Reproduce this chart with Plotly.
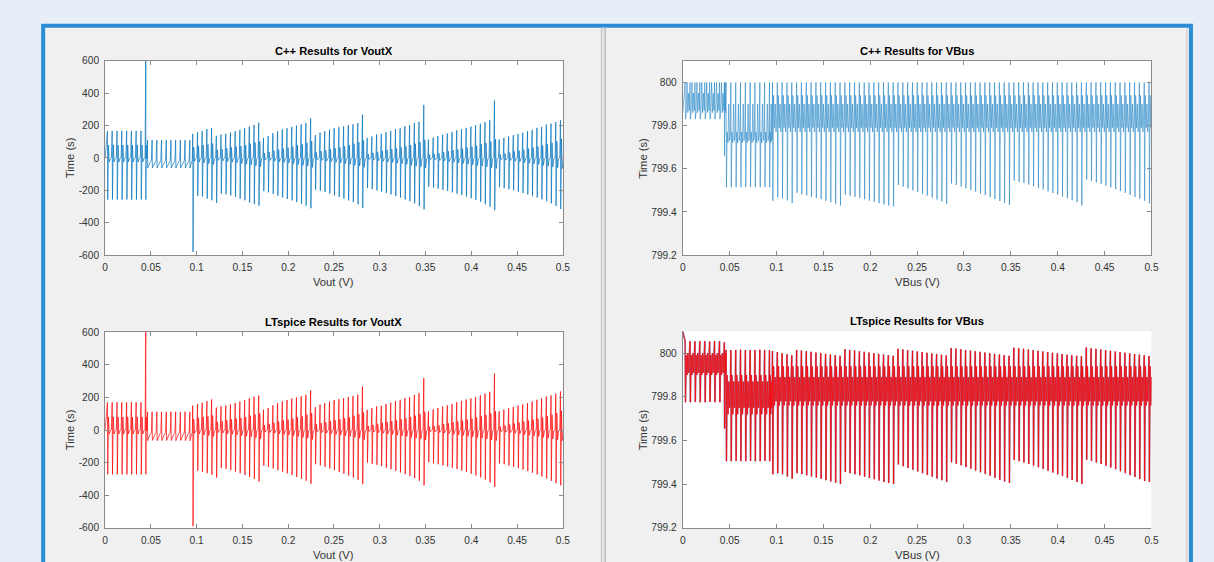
import plotly.graph_objects as go

W, H = 1214, 562

# ------------------------------------------------------------------
# DATA
# ------------------------------------------------------------------
# switching instants (s) - three regimes
spike_t_s1 = [0.0025, 0.0077, 0.0130, 0.0182, 0.0235, 0.0287, 0.0339, 0.0392, 0.0444]
spike_t_s2 = [0.0462, 0.0513, 0.0565, 0.0616, 0.0668, 0.0719, 0.0770, 0.0822, 0.0873, 0.0925]
spike_t_s3 = [0.0957, 0.1009, 0.1060, 0.1112, 0.1163,
              0.1215, 0.1266, 0.1318, 0.1369, 0.1421, 0.1472, 0.1524, 0.1575, 0.1627, 0.1678,
              0.1730, 0.1781, 0.1833, 0.1884, 0.1936, 0.1987, 0.2039, 0.2090, 0.2142, 0.2193, 0.2245,
              0.2296, 0.2348, 0.2399, 0.2451, 0.2502, 0.2554, 0.2605, 0.2657, 0.2708, 0.2760, 0.2811,
              0.2863, 0.2914, 0.2966, 0.3017, 0.3069, 0.3120, 0.3172, 0.3223, 0.3275, 0.3326, 0.3378, 0.3429, 0.3481,
              0.3532, 0.3584, 0.3635, 0.3687, 0.3738, 0.3790, 0.3841, 0.3893, 0.3944, 0.3996, 0.4047, 0.4099, 0.4150, 0.4202, 0.4253,
              0.4305, 0.4356, 0.4408, 0.4459, 0.4511, 0.4562, 0.4614, 0.4665, 0.4717, 0.4768, 0.4820, 0.4871, 0.4923, 0.4974]

# ---- VoutX, C++ ----
vx_cpp_pos_s1 = [167, 168, 167, 167, 168, 167, 167, 168, 620]
vx_cpp_neg_s1 = [-257, -256, -257, -257, -256, -257, -257, -256, -257]
vx_cpp_pos_s2 = [110, 111, 110, 110, 111, 110, 110, 111, 110, 110]
vx_cpp_neg_s2 = [-62, -61, -62, -62, -61, -62, -62, -61, -62, -62]
vx_cpp_pos_s3 = [149, 159, 165, 178, 186,
                 137, 145, 149, 157, 165, 173, 184, 194, 204, 218,
                 124, 135, 153, 165, 177, 184, 192, 200, 208, 216, 245,
                 141, 157, 165, 175, 184, 190, 196, 202, 208, 216, 267,
                 124, 133, 145, 149, 159, 167, 178, 184, 196, 202, 216, 224, 328,
                 114, 126, 135, 143, 151, 159, 171, 178, 186, 194, 202, 212, 222, 233, 355,
                 114, 124, 133, 141, 149, 157, 165, 173, 186, 192, 206, 212, 222, 233]
vx_cpp_neg_s3 = [-580, -233, -237, -251, -261,
                 -277, -220, -224, -231, -239, -251, -261, -275, -284, -294,
                 -205, -212, -222, -233, -243, -253, -262, -272, -283, -294, -310,
                 -196, -202, -210, -220, -231, -241, -251, -262, -272, -285, -308,
                 -185, -192, -200, -208, -216, -225, -235, -245, -256, -267, -280, -296, -318,
                 -178, -184, -190, -197, -204, -212, -220, -229, -238, -248, -258, -270, -285, -300, -322,
                 -180, -186, -193, -200, -208, -216, -225, -234, -244, -255, -267, -280, -296, -315]

# secondary (ringing) levels, shared by both simulators
vx_mid_s1 = [80, 81, 80, 80, 81, 80, 80, 81, 80]
vx_dip_s1 = [-25, -24, -25, -25, -24, -25, -25, -24, -25]
vx_mid_s2 = [-50, -50, -49, -50, -50, -49, -50, -50, -49, -50]
vx_dip_s2 = [-38, -37, -38, -38, -37, -38, -38, -37, -38, -38]
vx_mid_s3 = [67, 75, 80, 84, 90,
             50, 55, 60, 65, 70, 75, 80, 88, 95, 102,
             30, 38, 45, 52, 58, 64, 70, 78, 85, 95, 105,
             35, 42, 48, 55, 60, 66, 72, 80, 88, 98, 110,
             25, 32, 38, 45, 50, 55, 60, 66, 72, 80, 88, 98, 112,
             20, 25, 30, 36, 42, 48, 53, 58, 64, 70, 76, 84, 92, 102, 115,
             22, 28, 34, 40, 46, 52, 58, 64, 70, 77, 85, 94, 104, 118]
vx_dip_s3 = [-20, -25, -30, -35, -40,
             -15, -18, -22, -26, -30, -34, -38, -42, -48, -55,
             -12, -15, -19, -23, -27, -31, -35, -40, -45, -50, -58,
             -12, -15, -19, -23, -27, -31, -35, -40, -45, -50, -58,
             -10, -13, -16, -20, -24, -28, -32, -36, -40, -45, -50, -55, -62,
             -10, -12, -15, -18, -22, -26, -30, -34, -38, -42, -46, -50, -55, -60, -65,
             -10, -13, -16, -20, -24, -28, -32, -36, -40, -45, -50, -55, -60, -66]
vx_rest_s1 = [-4, 2]
vx_rest_s2 = [-26, -16]
vx_rest_s3 = [-4, 2]
vx_start = 0

# ---- VoutX, LTspice ----
vx_lt_pos_s1 = [170, 170, 171, 170, 170, 171, 170, 170, 620]
vx_lt_neg_s1 = [-272, -273, -272, -272, -273, -272, -272, -273, -272]
vx_lt_pos_s2 = [112, 112, 113, 112, 112, 113, 112, 112, 113, 112]
vx_lt_neg_s2 = [-65, -64, -65, -65, -64, -65, -65, -64, -65, -65]
vx_lt_pos_s3 = [150, 160, 167, 178, 188,
                138, 146, 150, 158, 166, 175, 185, 195, 206, 212,
                125, 136, 152, 165, 176, 185, 193, 200, 208, 216, 243,
                140, 156, 165, 175, 184, 190, 196, 203, 209, 217, 267,
                124, 134, 145, 150, 160, 168, 178, 186, 196, 203, 216, 226, 320,
                115, 127, 136, 144, 152, 160, 171, 179, 187, 195, 203, 213, 223, 235, 347,
                115, 125, 134, 142, 150, 158, 166, 175, 186, 194, 206, 213, 224, 237]
vx_lt_neg_s3 = [-590, -250, -256, -265, -275,
                -292, -232, -238, -246, -255, -265, -276, -288, -300, -316,
                -218, -226, -236, -246, -256, -266, -276, -288, -300, -312, -330,
                -210, -217, -226, -236, -246, -257, -268, -280, -292, -306, -333,
                -200, -207, -214, -222, -231, -240, -250, -260, -271, -283, -296, -312, -340,
                -198, -204, -210, -217, -224, -232, -240, -249, -258, -268, -279, -291, -305, -322, -350,
                -205, -211, -218, -226, -234, -243, -252, -262, -273, -285, -298, -312, -326, -340]

# ---- VBus, C++ ----
vb_cpp_ceiling = 800.0
vb_cpp_start = 799.86
vb_cpp_deep_s1 = [799.83, 799.83, 799.83, 799.83, 799.83, 799.83, 799.83, 799.83, 799.66]
vb_cpp_deep_s2 = [799.515, 799.515, 799.516, 799.515, 799.515, 799.516, 799.515, 799.515, 799.516, 799.515]
vb_cpp_deep_s3 = [799.452, 799.467, 799.463, 799.454, 799.441,
                  799.489, 799.482, 799.476, 799.470, 799.465, 799.459, 799.452, 799.445, 799.438, 799.430,
                  799.480, 799.475, 799.470, 799.465, 799.459, 799.453, 799.447, 799.441, 799.435, 799.430, 799.426,
                  799.525, 799.517, 799.509, 799.500, 799.492, 799.484, 799.476, 799.467, 799.458, 799.449, 799.438,
                  799.532, 799.525, 799.518, 799.510, 799.502, 799.494, 799.486, 799.478, 799.469, 799.460, 799.451, 799.443, 799.433,
                  799.545, 799.540, 799.534, 799.527, 799.520, 799.512, 799.504, 799.496, 799.488, 799.480, 799.472, 799.463, 799.454, 799.445, 799.430,
                  799.550, 799.544, 799.537, 799.530, 799.522, 799.514, 799.506, 799.497, 799.488, 799.479, 799.470, 799.461, 799.452, 799.440]
vb_cpp_band_s1 = [799.86, 800.0, 799.86, 799.95, 799.87]
vb_cpp_band_s2 = [799.77, 799.72, 799.90, 799.73, 799.76]
vb_cpp_band_s3 = [799.94, 799.79, 799.90, 799.77, 799.84]

# ---- VBus, LTspice ----
vb_lt_start = 800.10
vb_lt_top_s1 = [800.055, 800.055, 800.054, 800.055, 800.055, 800.054, 800.055, 800.055, 800.050]
vb_lt_deep_s1 = [799.775, 799.775, 799.776, 799.775, 799.775, 799.776, 799.775, 799.775, 799.655]
vb_lt_top_s2 = [800.015, 800.014, 800.015, 800.016, 800.015, 800.014, 800.015, 800.016, 800.015, 800.014]
vb_lt_deep_s2 = [799.505, 799.505, 799.506, 799.505, 799.505, 799.506, 799.505, 799.505, 799.506, 799.505]
vb_lt_top_s3 = [800.010, 800.005, 800.000, 799.995, 799.990,
                800.015, 800.012, 800.009, 800.006, 800.003, 800.000, 799.997, 799.994, 799.991, 799.988,
                800.018, 800.015, 800.012, 800.009, 800.006, 800.003, 800.000, 799.997, 799.994, 799.991, 799.988,
                800.020, 800.017, 800.014, 800.011, 800.008, 800.005, 800.002, 799.999, 799.996, 799.993, 799.990,
                800.024, 800.021, 800.018, 800.015, 800.012, 800.009, 800.006, 800.003, 800.000, 799.997, 799.994, 799.991, 799.988,
                800.025, 800.022, 800.020, 800.017, 800.014, 800.011, 800.008, 800.005, 800.002, 799.999, 799.996, 799.993, 799.990, 799.988, 799.986,
                800.026, 800.023, 800.020, 800.017, 800.014, 800.011, 800.008, 800.005, 800.002, 799.999, 799.996, 799.993, 799.990, 799.987]
vb_lt_deep_s3 = [799.445, 799.450, 799.445, 799.435, 799.425,
                 799.450, 799.446, 799.440, 799.435, 799.430, 799.424, 799.418, 799.412, 799.406, 799.400,
                 799.455, 799.450, 799.445, 799.440, 799.434, 799.428, 799.422, 799.416, 799.410, 799.405, 799.400,
                 799.490, 799.482, 799.474, 799.466, 799.458, 799.450, 799.442, 799.434, 799.426, 799.418, 799.410,
                 799.500, 799.493, 799.486, 799.478, 799.470, 799.462, 799.454, 799.446, 799.438, 799.429, 799.420, 799.412, 799.405,
                 799.510, 799.505, 799.499, 799.492, 799.485, 799.477, 799.469, 799.461, 799.453, 799.445, 799.437, 799.428, 799.419, 799.410, 799.400,
                 799.512, 799.506, 799.499, 799.492, 799.484, 799.476, 799.468, 799.459, 799.450, 799.441, 799.432, 799.423, 799.414, 799.410]
vb_lt_band_s1 = [799.99, 799.90, 800.0, 799.91, 799.97]
vb_lt_band_s2 = [799.90, 799.72, 799.87, 799.75, 799.82]
vb_lt_band_s3 = [799.94, 799.76, 799.89, 799.78, 799.86]

# ---- ticks / labels ----
x_tick_vals = [0, 0.05, 0.1, 0.15, 0.2, 0.25, 0.3, 0.35, 0.4, 0.45, 0.5]
x_tick_text = ["0", "0.05", "0.1", "0.15", "0.2", "0.25", "0.3", "0.35", "0.4", "0.45", "0.5"]
vx_tick_vals = [-600, -400, -200, 0, 200, 400, 600]
vx_tick_text = ["-600", "-400", "-200", "0", "200", "400", "600"]
vb_tick_vals = [799.2, 799.4, 799.6, 799.8, 800]
vb_tick_text = ["799.2", "799.4", "799.6", "799.8", "800"]
titles = ["C++ Results for VoutX", "C++ Results for VBus",
          "LTspice Results for VoutX", "LTspice Results for VBus"]
xlabels = ["Vout (V)", "VBus (V)", "Vout (V)", "VBus (V)"]
ylabel = "Time (s)"

# ------------------------------------------------------------------
# build polylines from the per-switching-cycle values
# ------------------------------------------------------------------
all_t = spike_t_s1 + spike_t_s2 + spike_t_s3


def build(rows, phases, start):
    xs, ys = [0.0], [start]
    n = len(all_t)
    for k in range(n):
        t = all_t[k]
        T = (all_t[k + 1] - t) if k + 1 < n else (t - all_t[k - 1])
        for f, v in zip(phases, rows[k]):
            xs.append(t + f * T)
            ys.append(v)
    return xs, ys


VX_PH = [0.0, 0.06, 0.22, 0.38, 0.6, 0.85]
VB_PH = [0.0, 0.08, 0.22, 0.4, 0.56, 0.72, 0.88]


def vx_rows(pos1, neg1, pos2, neg2, pos3, neg3):
    rows = []
    for P, N, S, D in zip(pos1, neg1, vx_mid_s1, vx_dip_s1):
        rows.append([P, N, S, D] + vx_rest_s1)
    for P, N, S, D in zip(pos2, neg2, vx_mid_s2, vx_dip_s2):
        rows.append([P, N, S, D] + vx_rest_s2)
    for P, N, S, D in zip(pos3, neg3, vx_mid_s3, vx_dip_s3):
        rows.append([P, N, S, D] + vx_rest_s3)
    return rows


def vb_rows(tops, deeps, bands):
    rows = []
    for top_s, deep_s, band in zip(tops, deeps, bands):
        for tp, dp in zip(top_s, deep_s):
            rows.append([tp, dp] + band)
    return rows


vx_cpp_x, vx_cpp_y = build(vx_rows(vx_cpp_pos_s1, vx_cpp_neg_s1, vx_cpp_pos_s2, vx_cpp_neg_s2,
                                   vx_cpp_pos_s3, vx_cpp_neg_s3), VX_PH, vx_start)
vx_lt_x, vx_lt_y = build(vx_rows(vx_lt_pos_s1, vx_lt_neg_s1, vx_lt_pos_s2, vx_lt_neg_s2,
                                 vx_lt_pos_s3, vx_lt_neg_s3), VX_PH, vx_start)
cpp_tops = [[vb_cpp_ceiling] * len(spike_t_s1), [vb_cpp_ceiling] * len(spike_t_s2),
            [vb_cpp_ceiling] * len(spike_t_s3)]
vb_cpp_x, vb_cpp_y = build(vb_rows(cpp_tops, [vb_cpp_deep_s1, vb_cpp_deep_s2, vb_cpp_deep_s3],
                                   [vb_cpp_band_s1, vb_cpp_band_s2, vb_cpp_band_s3]), VB_PH, vb_cpp_start)
vb_lt_x, vb_lt_y = build(vb_rows([vb_lt_top_s1, vb_lt_top_s2, vb_lt_top_s3],
                                 [vb_lt_deep_s1, vb_lt_deep_s2, vb_lt_deep_s3],
                                 [vb_lt_band_s1, vb_lt_band_s2, vb_lt_band_s3]), VB_PH, vb_lt_start)

# ------------------------------------------------------------------
# figure
# ------------------------------------------------------------------
FONT = "Liberation Sans, Arial, Helvetica, sans-serif"
BLUE = "#0072BD"
RED = "#FF0000"
PAGE_BG = "#e7eef7"

# small correction so the photographed page lands where the reference is
SX, OX = 0.9924, 2.8
SY, OY = 0.9785, 5.3


def px(x):
    return ((x - OX) / SX) / W


def py(y):
    return 1 - ((y - OY) / SY) / H


# axes boxes in target pixels: (left, right, top, bottom)
boxes = [(105, 563, 61, 255), (683, 1152, 61, 255), (105, 563, 332, 527), (683, 1152, 331, 527)]

fig = go.Figure()
fig.add_trace(go.Scatter(x=vx_cpp_x, y=vx_cpp_y, mode="lines", line=dict(color=BLUE, width=0.7),
                         xaxis="x", yaxis="y", showlegend=False, hoverinfo="skip"))
fig.add_trace(go.Scatter(x=vb_cpp_x, y=vb_cpp_y, mode="lines", line=dict(color=BLUE, width=0.6),
                         opacity=0.85, xaxis="x2", yaxis="y2", showlegend=False, hoverinfo="skip"))
fig.add_trace(go.Scatter(x=vx_lt_x, y=vx_lt_y, mode="lines", line=dict(color=RED, width=0.7),
                         xaxis="x3", yaxis="y3", showlegend=False, hoverinfo="skip"))
fig.add_trace(go.Scatter(x=vb_lt_x, y=vb_lt_y, mode="lines", line=dict(color="#7a4a7c", width=1.7),
                         opacity=0.75, xaxis="x4", yaxis="y4", showlegend=False, hoverinfo="skip"))
fig.add_trace(go.Scatter(x=vb_lt_x, y=vb_lt_y, mode="lines", line=dict(color=RED, width=0.7),
                         xaxis="x4", yaxis="y4", showlegend=False, hoverinfo="skip"))

LINE_C = "#8a8a8a"
TICKFONT = dict(family=FONT, size=10.2, color="#333333")

layout = dict(width=W, height=H, margin=dict(l=0, r=0, t=0, b=0), autosize=False,
              paper_bgcolor=PAGE_BG, plot_bgcolor="rgba(0,0,0,0)", showlegend=False)

shapes = []
# MATLAB figure panels inside blue frame
shapes.append(dict(type="rect", xref="paper", yref="paper", x0=px(43), x1=px(1191.5), y0=py(620), y1=py(26),
                   fillcolor="#f0f0f0", line=dict(color="#2b8dd6", width=4), layer="below"))
shapes.append(dict(type="rect", xref="paper", yref="paper", x0=px(601), x1=px(606), y0=py(620), y1=py(28),
                   fillcolor="#e2e2e2", line=dict(width=0), layer="below"))
shapes.append(dict(type="line", xref="paper", yref="paper", x0=px(601.5), x1=px(601.5), y0=py(620), y1=py(28),
                   line=dict(color="#c4c4c4", width=1), layer="below"))
shapes.append(dict(type="line", xref="paper", yref="paper", x0=px(605.5), x1=px(605.5), y0=py(620), y1=py(28),
                   line=dict(color="#b0b0b0", width=1), layer="below"))
shapes.append(dict(type="line", xref="paper", yref="paper", x0=px(1187.5), x1=px(1187.5), y0=py(620), y1=py(28),
                   line=dict(color="#c4c4c4", width=1), layer="below"))
for (l, r, t, b) in boxes:
    shapes.append(dict(type="rect", xref="paper", yref="paper", x0=px(l), x1=px(r), y0=py(b), y1=py(t),
                       fillcolor="#ffffff", line=dict(width=0), layer="below"))
layout["shapes"] = shapes

annotations = []
for i, (l, r, t, b) in enumerate(boxes):
    n = "" if i == 0 else str(i + 1)
    mirror = "ticks" if i < 3 else False
    xa = dict(domain=[px(l), px(r)], range=[0, 0.5], anchor="y" + n, showline=True, linecolor=LINE_C,
              linewidth=1, mirror=mirror, ticks="inside", ticklen=4, tickcolor=LINE_C, tickwidth=1,
              showgrid=False, zeroline=False, tickvals=x_tick_vals, ticktext=x_tick_text,
              tickfont=TICKFONT, ticklabelstandoff=3, fixedrange=True)
    if i % 2 == 0:
        yr, tv, tt = [-600, 600], vx_tick_vals, vx_tick_text
    else:
        yr, tv, tt = [799.2, 800.1], vb_tick_vals, vb_tick_text
    ya = dict(domain=[py(b), py(t)], range=yr, anchor="x" + n, showline=True, linecolor=LINE_C,
              linewidth=1, mirror=mirror, ticks="inside", ticklen=4, tickcolor=LINE_C, tickwidth=1,
              showgrid=False, zeroline=False, tickvals=tv, ticktext=tt, tickfont=TICKFONT,
              ticklabelstandoff=3, fixedrange=True)
    layout["xaxis" + n] = xa
    layout["yaxis" + n] = ya
    cx = (l + r) / 2
    annotations.append(dict(text="<b>" + titles[i] + "</b>", x=px(cx), y=py(t - 10), xref="paper", yref="paper",
                            showarrow=False, xanchor="center", yanchor="middle",
                            font=dict(family=FONT, size=11.2, color="#000000")))
    annotations.append(dict(text=xlabels[i], x=px(cx), y=py(b + 27), xref="paper", yref="paper",
                            showarrow=False, xanchor="center", yanchor="middle",
                            font=dict(family=FONT, size=11.2, color="#333333")))
    annotations.append(dict(text=ylabel, x=px(l - 35 if i % 2 == 0 else l - 40), y=py((t + b) / 2),
                            xref="paper", yref="paper", showarrow=False, textangle=-90,
                            xanchor="center", yanchor="middle",
                            font=dict(family=FONT, size=11.2, color="#333333")))
layout["annotations"] = annotations

fig.update_layout(**layout)

PAGE_FIX = (
    "var h=document.documentElement, b=document.body;"
    "h.style.margin='0'; h.style.padding='0'; h.style.overflow='hidden'; h.style.background='" + PAGE_BG + "';"
    "b.style.margin='0'; b.style.padding='0'; b.style.overflow='hidden'; b.style.background='" + PAGE_BG + "';"
    "var d=document.getElementsByClassName('plotly-graph-div')[0];"
    "if(d){d.style.position='fixed'; d.style.left='0px'; d.style.top='0px';}"
)
fig.write_html("out.html", config={"displayModeBar": False, "responsive": False},
               default_width="1214px", default_height="562px", post_script=PAGE_FIX)
